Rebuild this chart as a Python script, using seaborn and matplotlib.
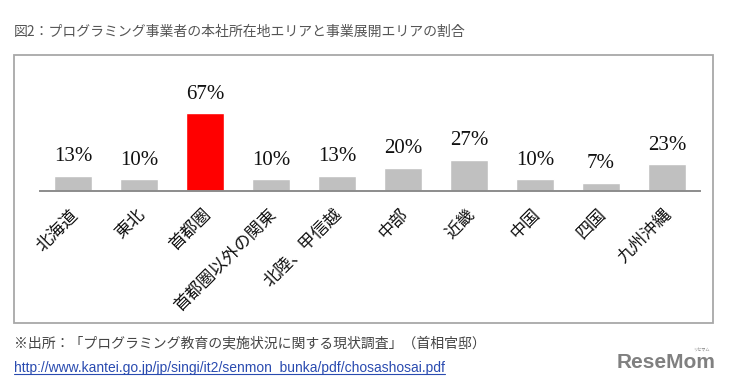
import matplotlib
matplotlib.use("Agg")
import matplotlib.pyplot as plt
import matplotlib.patches as mpatches
import matplotlib.lines as mlines
from matplotlib.transforms import ScaledTranslation
import seaborn as sns
import pandas as pd

# Data

regions = ["北海道", "東北", "首都圏", "首都圏以外の関東", "北陸、甲信越",
           "中部", "近畿", "中国", "四国", "九州沖縄"]
shares = [13, 10, 67, 10, 13, 20, 27, 10, 7, 23]
highlight = "首都圏"

title = "図2：プログラミング事業者の本社所在地エリアと事業展開エリアの割合"
source = "※出所：「プログラミング教育の実施状況に関する現状調査」（首相官邸）"
url = "http://www.kantei.go.jp/jp/singi/it2/senmon_bunka/pdf/chosashosai.pdf"

df = pd.DataFrame({"region": regions, "share": shares})
colors = {r: ("#ff0000" if r == highlight else "#c0c0c0") for r in regions}

sns.set_style("white")
plt.rcParams['font.family'] = ['Noto Sans CJK JP', 'DejaVu Sans']

W, H = 729, 387
fig = plt.figure(figsize=(W / 100, H / 100), dpi=100)

def fx(px):
    return px / W

def fy(py):
    return 1 - py / H

# frame around the chart
fig.patches.append(mpatches.Rectangle((fx(14), fy(323)), fx(713) - fx(14), fy(55) - fy(323),
                                      transform=fig.transFigure, fill=False,
                                      edgecolor="#a8a8a8", linewidth=1.3))

ax = fig.add_axes([fx(40), fy(191), fx(700) - fx(40), (191 - 75) / H])
sns.barplot(data=df, x="region", y="share", hue="region", palette=colors,
            legend=False, width=0.58, saturation=1, ax=ax)
ax.set_ylim(0, 100)
ax.set_xlim(-0.5, len(regions) - 0.5)

for sp in ["top", "right", "left"]:
    ax.spines[sp].set_visible(False)
ax.spines["bottom"].set_color("#8c8c8c")
ax.spines["bottom"].set_linewidth(1.4)
ax.set_yticks([])
ax.set_xlabel("")
ax.set_ylabel("")
ax.tick_params(axis="x", length=0, pad=15)
ax.set_xticks(range(len(regions)))
ax.set_xticklabels(regions, rotation=45, ha="right", va="center",
                   rotation_mode="anchor", fontsize=12.3, color="#111111")
shift = ScaledTranslation(2 / 72, 0, fig.dpi_scale_trans)
for lab in ax.get_xticklabels():
    lab.set_transform(lab.get_transform() + shift)

for i, v in enumerate(shares):
    ax.annotate(f"{v}%", xy=(i, v), xytext=(0, 7), textcoords="offset points",
                ha="center", va="bottom", fontsize=15,
                family=["Liberation Serif", "DejaVu Serif"], color="#111111")

fig.text(fx(14), fy(32), title, fontsize=10, color="#555555", va="center", ha="left")
fig.text(fx(14), fy(343), source, fontsize=10, color="#444444", va="center", ha="left")
link = fig.text(fx(14), fy(368), url, fontsize=10, color="#2a4bb0", va="center", ha="left",
                family=["Liberation Sans", "DejaVu Sans"])

# underline the link
fig.canvas.draw()
bb = link.get_window_extent(renderer=fig.canvas.get_renderer())
bb = bb.transformed(fig.transFigure.inverted())
fig.lines.append(mlines.Line2D([bb.x0, bb.x1], [bb.y0 + 0.002, bb.y0 + 0.002],
                               transform=fig.transFigure, color="#2a4bb0", linewidth=0.8))

fig.text(fx(715), fy(362), "ReseMom", fontsize=15, fontweight="bold", color="#808080",
         va="center", ha="right", family=["Liberation Sans", "DejaVu Sans"])
fig.text(fx(701), fy(350), "リセマム", fontsize=3, color="#808080", va="center", ha="center")

fig.savefig("out.png", dpi=100, facecolor="white")
